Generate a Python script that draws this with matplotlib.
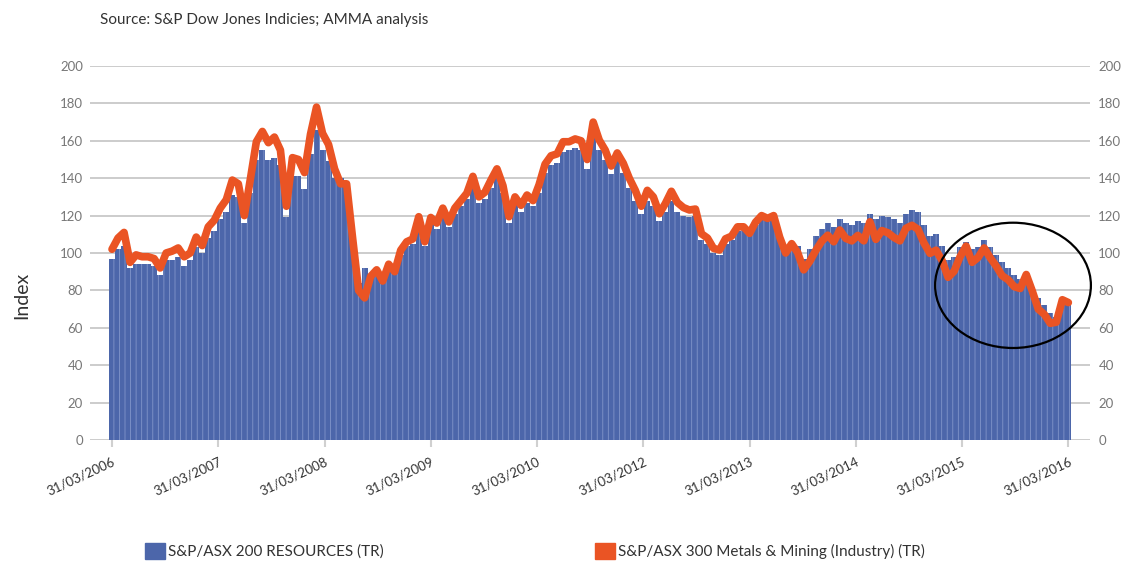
import matplotlib.pyplot as plt
import matplotlib.patches as mpatches
import numpy as np

plt.rcParams["font.family"] = ["Lato", "DejaVu Sans"]
plt.rcParams["hatch.linewidth"] = 0.6

# values at even steps, 31/03/2006 -> 31/03/2016
resources = [
    97, 102, 104, 92, 94, 94, 94, 93, 88, 96,
    96, 98, 93, 96, 103, 100, 108, 112, 118, 122,
    131, 130, 116, 132, 150, 155, 150, 151, 147, 119,
    141, 141, 134, 153, 166, 155, 149, 140, 140, 132,
    105, 84, 92, 88, 90, 86, 92, 90, 99, 104,
    105, 116, 104, 116, 113, 121, 114, 121, 125, 129,
    137, 127, 129, 135, 141, 132, 116, 126, 122, 127,
    125, 132, 143, 147, 148, 154, 155, 156, 155, 145,
    163, 155, 150, 142, 149, 143, 135, 128, 121, 128,
    125, 117, 122, 128, 122, 120, 119, 120, 107, 105,
    100, 99, 105, 107, 112, 113, 110, 115, 119, 118,
    119, 109, 102, 106, 104, 97, 102, 109, 113, 116,
    114, 118, 116, 115, 117, 116, 121, 118, 120, 119,
    118, 116, 121, 123, 122, 115, 109, 110, 104, 96,
    98, 103, 106, 102, 103, 107, 103, 99, 95, 92,
    88, 86, 88, 82, 76, 72, 68, 66, 73, 72,
]
metals_mining = [
    102, 108, 111, 95, 99, 98, 98, 97, 92, 100,
    101, 102.7, 98, 100, 108.5, 104, 114, 117.5, 124, 128.5,
    139, 137, 120, 139.5, 159.5, 165, 159, 162, 155, 125,
    151, 150, 143, 163.5, 178, 164, 158, 145, 137, 137,
    108, 80, 76, 87.5, 91, 85, 94, 90, 101.5, 106,
    107.5, 119.4, 106, 119, 116, 124, 116.6, 124, 128, 132,
    141, 130, 132.5, 139, 145, 136, 119.4, 130, 125.5, 131,
    128, 136.5, 147.5, 152, 153, 159.5, 159.5, 161, 160, 150,
    170, 160.4, 155, 146.5, 153.5, 148, 140, 133.5, 125, 133.5,
    130, 121, 126.5, 133, 127, 124.3, 123, 123.5, 110.3, 108,
    102.5, 101.6, 107.6, 109, 114, 114, 110.5, 116.5, 120, 118.5,
    120, 108.5, 100, 105, 100.2, 91, 95.5, 101.3, 106.3, 109.5,
    106, 112.3, 107.8, 106.5, 109.4, 106.5, 116.7, 107.3, 112, 110.8,
    108.3, 106.5, 113.2, 114.8, 112.7, 105.3, 99.8, 101.5, 96, 87,
    90.2, 98, 103.7, 95, 97.6, 102.7, 97.5, 93, 87.8, 85.7,
    82, 81, 88.5, 79.7, 70, 67.2, 62.4, 63, 75, 73.5,
]
tick_labels = ["31/03/2006", "31/03/2007", "31/03/2008", "31/03/2009", "31/03/2010",
               "31/03/2012", "31/03/2013", "31/03/2014", "31/03/2015", "31/03/2016"]
y_ticks = [0, 20, 40, 60, 80, 100, 120, 140, 160, 180, 200]

C_BLUE = "#4C66AA"
C_STRIPE = "#8195CA"
C_ORANGE = "#EA5424"
C_GRID = "#C4C4C4"

n = len(resources)
x = np.arange(n)

fig = plt.figure(figsize=(11.21, 5.61), dpi=100)
ax = fig.add_axes([90 / 1121, 121 / 561, 1000 / 1121, 374 / 561])

ax.bar(x, resources, width=1.0, color=C_BLUE, edgecolor=C_STRIPE, linewidth=0,
       hatch="|||", zorder=2)
ax.plot(x, metals_mining, color=C_ORANGE, lw=5.5, solid_joinstyle="round",
        solid_capstyle="round", zorder=3)

ax.set_xlim(-3.66, 162.6)
ax.set_ylim(0, 200)
ax.set_yticks(y_ticks)
ax.grid(axis="y", color=C_GRID, lw=1.2, zorder=0)
ax.set_axisbelow(True)
for s in ax.spines.values():
    s.set_visible(False)

ax.set_xticks(np.linspace(0, n - 1, len(tick_labels)))
ax.set_xticklabels(tick_labels, rotation=25, ha="right", va="top",
                   rotation_mode="anchor", fontsize=9.5, color="#333333")
ax.tick_params(axis="x", length=5, width=1.5, color="#D0D0D0", pad=6)
ax.tick_params(axis="y", length=0, pad=5, labelsize=9.5, labelcolor="#777777")

ax2 = ax.twinx()
ax2.set_ylim(0, 200)
ax2.set_yticks(y_ticks)
ax2.tick_params(axis="y", length=0, pad=6, labelsize=9.5, labelcolor="#777777")
for s in ax2.spines.values():
    s.set_visible(False)

# circle round the last year
ax.add_patch(mpatches.Ellipse((149.8, 82.7), 25.9, 67, fill=False,
                              edgecolor="black", lw=1.6, zorder=4, clip_on=False))

fig.text(22 / 1121, 0.474, "Index", rotation=90, ha="center", va="center",
         fontsize=14, color="#333333")
fig.text(100 / 1121, 1 - 20 / 561, "Source: S&P Dow Jones Indicies; AMMA analysis",
         ha="left", va="center", fontsize=11, color="#333333")

h1 = mpatches.Patch(color=C_BLUE, label="S&P/ASX 200 RESOURCES (TR)")
h2 = mpatches.Patch(color=C_ORANGE, label="S&P/ASX 300 Metals & Mining (Industry) (TR)")
for h, xpos in [(h1, 145), (h2, 595)]:
    fig.legend(handles=[h], loc="center left", bbox_to_anchor=(xpos / 1121, 10 / 561),
               frameon=False, fontsize=11, handlelength=1.3, handleheight=1.3,
               handletextpad=0.2, borderpad=0, borderaxespad=0, labelcolor="#333333")

fig.savefig("out.png", dpi=100)
